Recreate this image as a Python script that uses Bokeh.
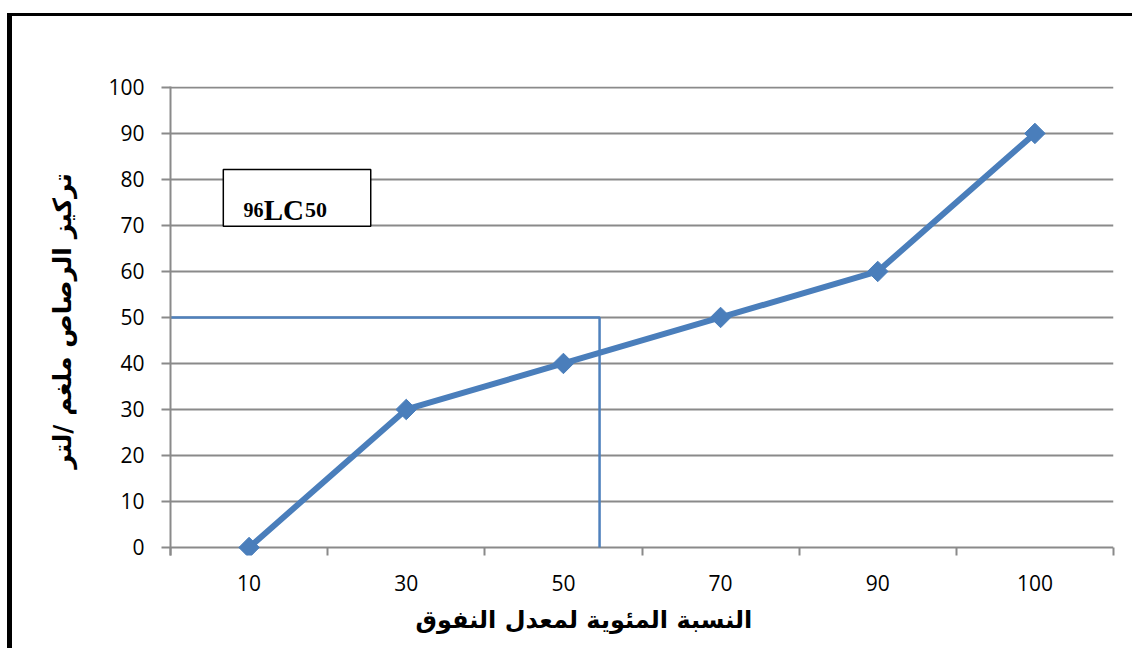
import math

from bokeh.plotting import figure
from bokeh.models import (Range1d, FixedTicker, BoxAnnotation, Label, Title,
                          CustomJSTickFormatter)
from bokeh.embed import file_html
from bokeh.resources import INLINE

# Mortality percentage categories (x) and lead concentration mg/L (y)
categories = ["10", "30", "50", "70", "90", "100"]
lead_conc = [0, 30, 40, 50, 60, 90]
y_ticks = [0, 10, 20, 30, 40, 50, 60, 70, 80, 90, 100]

# LC50 guide: concentration level and its position along the category axis
lc50_level = 50
lc50_slot = 2.73

x_title = "النسبة المئوية لمعدل النفوق"
y_title = "تركيز الرصاص ملغم /لتر"

BLUE = "#4a7ebb"
GUIDE = "#4f81bd"
GREY = "#8a8a8a"
TICK_FONT = "Open Sans"
AR_FONT = "DejaVu Sans"

n = len(categories)
xs = [i + 0.5 for i in range(n)]

p = figure(
    width=1120, height=632,
    x_range=Range1d(0, n), y_range=Range1d(-1.74, 100.2),
    output_backend="svg", toolbar_location=None,
    min_border_left=158, min_border_right=24,
    min_border_top=70, min_border_bottom=96,
    styles={
        "margin-left": "7px", "margin-top": "13px",
        "border-left": "5px solid black", "border-top": "3px solid black",
        "box-sizing": "content-box",
    },
)
p.outline_line_color = None
p.background_fill_color = "white"
p.border_fill_color = "white"

# horizontal grid
p.xgrid.visible = False
p.ygrid.ticker = FixedTicker(ticks=y_ticks)
p.ygrid.grid_line_color = GREY
p.ygrid.grid_line_width = 2

# y axis
p.yaxis.ticker = FixedTicker(ticks=y_ticks, minor_ticks=[])
p.yaxis.axis_line_color = GREY
p.yaxis.axis_line_width = 2
p.yaxis.major_tick_line_color = GREY
p.yaxis.major_tick_line_width = 2
p.yaxis.major_tick_out = 9
p.yaxis.major_tick_in = 0
p.yaxis.minor_tick_line_color = None
p.yaxis.major_label_text_font = TICK_FONT
p.yaxis.major_label_text_font_size = "21px"
p.yaxis.major_label_text_color = "black"
p.yaxis.major_label_standoff = 17
p.yaxis.axis_label = y_title
p.yaxis.axis_label_text_font = AR_FONT
p.yaxis.axis_label_text_font_style = "bold"
p.yaxis.axis_label_text_font_size = "25px"
p.yaxis.axis_label_text_color = "black"
p.yaxis.axis_label_standoff = 28

# category axis: labels centred in slots, ticks on slot boundaries
p.xaxis.ticker = FixedTicker(ticks=xs, minor_ticks=list(range(n + 1)))
p.xaxis.formatter = CustomJSTickFormatter(
    args=dict(cats=categories),
    code="return cats[Math.floor(tick)];")
p.xaxis.axis_line_color = None
p.xaxis.major_tick_line_color = None
p.xaxis.major_tick_out = 0
p.xaxis.major_tick_in = 0
p.xaxis.minor_tick_line_color = GREY
p.xaxis.minor_tick_line_width = 2
p.xaxis.minor_tick_out = 0
p.xaxis.minor_tick_in = 8
p.xaxis.major_label_text_font = TICK_FONT
p.xaxis.major_label_text_font_size = "21px"
p.xaxis.major_label_text_color = "black"
p.xaxis.major_label_standoff = 19

# x axis title, set a little left of the frame centre
p.add_layout(Title(text=x_title, align="left", offset=245,
                   text_font=AR_FONT, text_font_style="bold",
                   text_font_size="24px", text_color="black",
                   standoff=20), "below")

# LC50 guide lines
p.line([0, lc50_slot, lc50_slot], [lc50_level, lc50_level, 0],
       line_color=GUIDE, line_width=2.5)

# data series
p.line(xs, lead_conc, line_color=BLUE, line_width=6)
p.scatter(xs, lead_conc, marker="square", size=14.5, angle=math.pi / 4,
          fill_color=BLUE, line_color=BLUE)

# LC50 annotation box
p.add_layout(BoxAnnotation(left=0.336, right=1.274, bottom=69.85, top=82.17,
                           fill_color="white", fill_alpha=1.0,
                           line_color="black", line_alpha=1.0,
                           line_width=1.5, level="overlay"))
for txt, xpos, size in [("96", 0.465, "20px"), ("LC", 0.593, "29px"), ("50", 0.855, "22px")]:
    p.add_layout(Label(x=xpos, y=73.26, text=txt, text_font="Liberation Serif",
                       text_font_style="bold", text_font_size=size,
                       text_color="black", text_baseline="alphabetic",
                       text_align="left", level="overlay"))

open("out.html", "w").write(file_html(p, INLINE))
